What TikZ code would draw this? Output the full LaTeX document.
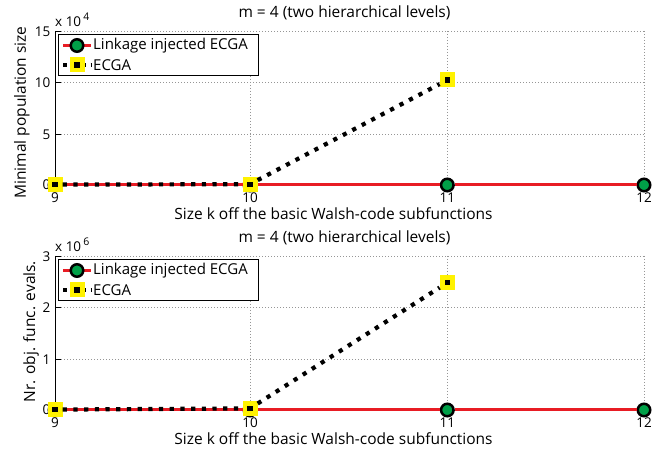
\documentclass[tikz,border=0pt]{standalone}
\usepackage{fontspec}
\setmainfont{Open Sans}
\definecolor{lred}{RGB}{232,28,36}
\definecolor{mgreen}{RGB}{0,160,72}
\definecolor{myellow}{RGB}{255,242,0}
\definecolor{gridc}{RGB}{150,150,150}
\tikzset{
  gridline/.style={gridc, line width=0.6pt, dash pattern=on 0.8pt off 2.2pt},
  axisline/.style={black, line width=0.6pt},
  redline/.style={lred, line width=3pt},
  blackdots/.style={black, line width=4.2pt, dash pattern=on 4.2pt off 6.5pt},
  gmark/.style={circle, fill=mgreen, draw=black, line width=2.5pt, minimum size=12.5pt, inner sep=0pt},
  ymark/.style={rectangle, fill=myellow, minimum size=15pt, inner sep=0pt,
     path picture={\fill[black] ([shift={(-2.6pt,-2.6pt)}]path picture bounding box.center) rectangle ++(5.2pt,5.2pt);}},
  ticklab/.style={font=\fontsize{13.5}{15}\selectfont, inner sep=0pt},
  txt/.style={font=\fontsize{15.5}{17}\selectfont, inner sep=0pt},
  legtxt/.style={font=\fontsize{15}{17}\selectfont, inner sep=0pt},
  legbox/.style={draw=black, fill=white, line width=0.8pt},
}
\begin{document}
\begin{tikzpicture}[x=1pt,y=-1pt]
\useasboundingbox (0,0) rectangle (665,454);
\fill[white] (0,0) rectangle (665,454);

% ---------------- top panel ----------------
\begin{scope}
  \foreach \yy in {31,82.3,134.3} \draw[gridline] (55,\yy) -- (644,\yy);
  \foreach \xx in {250,447.3,644} \draw[gridline] (\xx,31) -- (\xx,185);
  \draw[axisline] (55,31) -- (55,185) -- (644,185);
  \foreach \yy in {31,82.3,134.3} \draw[axisline] (55,\yy) -- (61,\yy);
  \foreach \xx in {250,447.3,644} \draw[axisline] (\xx,185) -- (\xx,179);
  \node[ticklab, anchor=base east] (ty15) at (50.5,36.5) {15};
  \node[ticklab, anchor=base east] (ty10) at (50.5,87.5) {10};
  \node[ticklab, anchor=base east] (ty5) at (50.5,139.5) {5};
  \node[ticklab, anchor=base east] (ty0) at (50.5,190) {0};
  \node[ticklab, anchor=base] (tx9) at (55,203) {9};
  \node[ticklab, anchor=base] (tx10) at (250,203) {10};
  \node[ticklab, anchor=base] (tx11) at (447.3,203) {11};
  \node[ticklab, anchor=base] (tx12) at (644,203) {12};
  \node[ticklab, anchor=base west] (texp) at (55,27) {x 10\,\raisebox{6.5pt}{\fontsize{10.5}{10}\selectfont 4}};
  \node[txt, anchor=base] (ttitle) at (344.5,18) {m = 4 (two hierarchical levels)};
  \node[txt, anchor=base] (txlab) at (333.5,220) {Size k off the basic Walsh-code subfunctions};
  \node[txt, rotate=90, anchor=base] (tylab) at (26,112.5) {Minimal population size};
  % linkage injected ECGA
  \node[gmark] (tl9) at (55,185) {};
  \node[gmark] (tl10) at (250,185) {};
  \node[gmark] (tl11) at (447.3,185) {};
  \node[gmark] (tl12) at (644,185) {};
  \draw[redline] (tl9) -- (tl10) -- (tl11) -- (tl12);
  % ECGA
  \node[ymark] (te9) at (55,184.6) {};
  \node[ymark] (te10) at (250,184.2) {};
  \node[ymark] (te11) at (447.3,80) {};
  \draw[blackdots] (te9) -- (te10) -- (te11);
  % legend
  \draw[legbox] (58,34) rectangle (258,75);
  \coordinate (tla) at (63,45.5);
  \coordinate (tlb) at (91,45.5);
  \draw[redline] (tla) -- (tlb);
  \node[gmark] (tlm) at (77,45.5) {};
  \node[legtxt, anchor=west] (tlt) at (93,45.5) {Linkage injected ECGA};
  \coordinate (tea) at (63,65);
  \coordinate (teb) at (91,65);
  \draw[blackdots, dash pattern=on 4.2pt off 5pt] (tea) -- (teb);
  \node[ymark] (tem) at (77,65) {};
  \node[legtxt, anchor=west] (tet) at (93,65) {ECGA};
\end{scope}

% ---------------- bottom panel ----------------
\begin{scope}[shift={(0,225)}]
  \foreach \yy in {31,82.3,134.3} \draw[gridline] (55,\yy) -- (644,\yy);
  \foreach \xx in {250,447.3,644} \draw[gridline] (\xx,31) -- (\xx,185);
  \draw[axisline] (55,31) -- (55,185) -- (644,185);
  \foreach \yy in {31,82.3,134.3} \draw[axisline] (55,\yy) -- (61,\yy);
  \foreach \xx in {250,447.3,644} \draw[axisline] (\xx,185) -- (\xx,179);
  \node[ticklab, anchor=base east] (by3) at (50.5,36.5) {3};
  \node[ticklab, anchor=base east] (by2) at (50.5,87.5) {2};
  \node[ticklab, anchor=base east] (by1) at (50.5,139.5) {1};
  \node[ticklab, anchor=base east] (by0) at (50.5,190) {0};
  \node[ticklab, anchor=base] (bx9) at (55,203) {9};
  \node[ticklab, anchor=base] (bx10) at (250,203) {10};
  \node[ticklab, anchor=base] (bx11) at (447.3,203) {11};
  \node[ticklab, anchor=base] (bx12) at (644,203) {12};
  \node[ticklab, anchor=base west] (bexp) at (55,27) {x 10\,\raisebox{6.5pt}{\fontsize{10.5}{10}\selectfont 6}};
  \node[txt, anchor=base] (btitle) at (344.5,18) {m = 4 (two hierarchical levels)};
  \node[txt, anchor=base] (bxlab) at (333.5,220) {Size k off the basic Walsh-code subfunctions};
  \node[txt, rotate=90, anchor=base] (bylab) at (35,106.5) {Nr. obj. func. evals.};
  % linkage injected ECGA
  \node[gmark] (bl9) at (55,185) {};
  \node[gmark] (bl10) at (250,185) {};
  \node[gmark] (bl11) at (447.3,185) {};
  \node[gmark] (bl12) at (644,185) {};
  \draw[redline] (bl9) -- (bl10) -- (bl11) -- (bl12);
  % ECGA
  \node[ymark] (be9) at (55,184.6) {};
  \node[ymark] (be10) at (250,183.4) {};
  \node[ymark] (be11) at (447.3,57.7) {};
  \draw[blackdots] (be9) -- (be10) -- (be11);
  % legend
  \draw[legbox] (58,34) rectangle (258,75);
  \coordinate (bla) at (63,45.5);
  \coordinate (blb) at (91,45.5);
  \draw[redline] (bla) -- (blb);
  \node[gmark] (blm) at (77,45.5) {};
  \node[legtxt, anchor=west] (blt) at (93,45.5) {Linkage injected ECGA};
  \coordinate (bea) at (63,65);
  \coordinate (beb) at (91,65);
  \draw[blackdots, dash pattern=on 4.2pt off 5pt] (bea) -- (beb);
  \node[ymark] (bem) at (77,65) {};
  \node[legtxt, anchor=west] (bet) at (93,65) {ECGA};
\end{scope}
\end{tikzpicture}
\end{document}
